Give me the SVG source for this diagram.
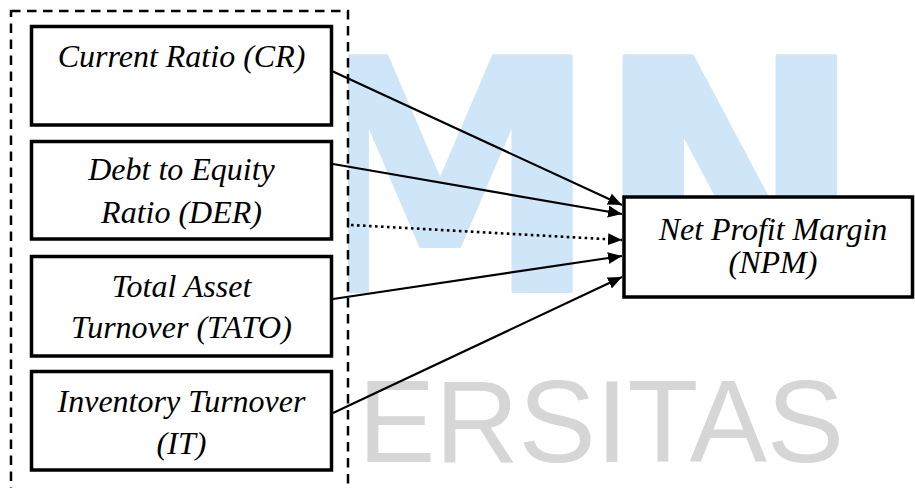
<svg xmlns="http://www.w3.org/2000/svg" width="915" height="488" viewBox="0 0 915 488">
  <style>
    .box { fill: #ffffff; stroke: #000000; stroke-width: 3.5; }
    .link { fill: none; stroke: #000000; stroke-width: 2.2; }
    .dotted { stroke-width: 2.6; stroke-dasharray: 2.6 3.4; }
  </style>
  <defs>
    <marker id="arrow" markerUnits="userSpaceOnUse" markerWidth="14" markerHeight="12" refX="14" refY="6" orient="auto">
      <path d="M0,0 L14,6 L0,12 Z" fill="#000000"/>
    </marker>
  </defs>

  <rect x="0" y="0" width="915" height="488" fill="#ffffff"/>

  <!-- background watermark lettering -->
  <g id="watermark">
    <g font-family="DejaVu Sans, sans-serif" font-weight="bold" font-size="322" fill="#cfe5f8" stroke="#cfe5f8" stroke-width="4" stroke-linejoin="round">
      <text x="280" y="291">M</text>
      <text x="595" y="291">N</text>
    </g>
    <text x="358" y="462" font-family="Liberation Sans, Arial, sans-serif" font-size="116" fill="#d6d6d6" textLength="486" lengthAdjust="spacing">ERSITAS</text>
  </g>

  <!-- dashed grouping frame around the independent variables -->
  <g id="predictors-frame">
    <rect x="11" y="11" width="337" height="490" fill="#ffffff" stroke="#000000" stroke-width="2.5" stroke-dasharray="9.5 6.5"/>
  </g>

  <g id="node-cr">
    <rect class="box" x="31.5" y="26.5" width="300" height="98.5"/>
    <text x="181.5" y="67" font-family="'Liberation Serif', serif" font-style="italic" font-size="32" text-anchor="middle">Current Ratio (CR)</text>
  </g>

  <g id="node-der">
    <rect class="box" x="31.5" y="141.5" width="300" height="97.5"/>
    <text x="181.5" y="180" font-family="'Liberation Serif', serif" font-style="italic" font-size="32" text-anchor="middle">Debt to Equity</text>
    <text x="181.5" y="223" font-family="'Liberation Serif', serif" font-style="italic" font-size="32" text-anchor="middle">Ratio (DER)</text>
  </g>

  <g id="node-tato">
    <rect class="box" x="31.5" y="256.5" width="300" height="99.5"/>
    <text x="181.5" y="297" font-family="'Liberation Serif', serif" font-style="italic" font-size="32" text-anchor="middle">Total Asset</text>
    <text x="181.5" y="338" font-family="'Liberation Serif', serif" font-style="italic" font-size="32" text-anchor="middle">Turnover (TATO)</text>
  </g>

  <g id="node-it">
    <rect class="box" x="31.5" y="371.5" width="300" height="98.5"/>
    <text x="181.5" y="412" font-family="'Liberation Serif', serif" font-style="italic" font-size="32" text-anchor="middle">Inventory Turnover</text>
    <text x="181.5" y="454" font-family="'Liberation Serif', serif" font-style="italic" font-size="32" text-anchor="middle">(IT)</text>
  </g>

  <g id="node-npm">
    <rect class="box" x="624" y="197" width="288.5" height="100" stroke-width="4"/>
    <text x="773" y="240" font-family="'Liberation Serif', serif" font-style="italic" font-size="32" text-anchor="middle">Net Profit Margin</text>
    <text x="773" y="273" font-family="'Liberation Serif', serif" font-style="italic" font-size="32" text-anchor="middle">(NPM)</text>
  </g>

  <g id="connectors">
    <line class="link" x1="333" y1="71.5" x2="622" y2="205" marker-end="url(#arrow)"/>
    <line class="link" x1="333" y1="164" x2="622" y2="214" marker-end="url(#arrow)"/>
    <line class="link dotted" x1="351" y1="225" x2="622" y2="240" marker-end="url(#arrow)"/>
    <line class="link" x1="333" y1="299" x2="622" y2="256" marker-end="url(#arrow)"/>
    <line class="link" x1="333" y1="413" x2="622" y2="277" marker-end="url(#arrow)"/>
  </g>
</svg>
